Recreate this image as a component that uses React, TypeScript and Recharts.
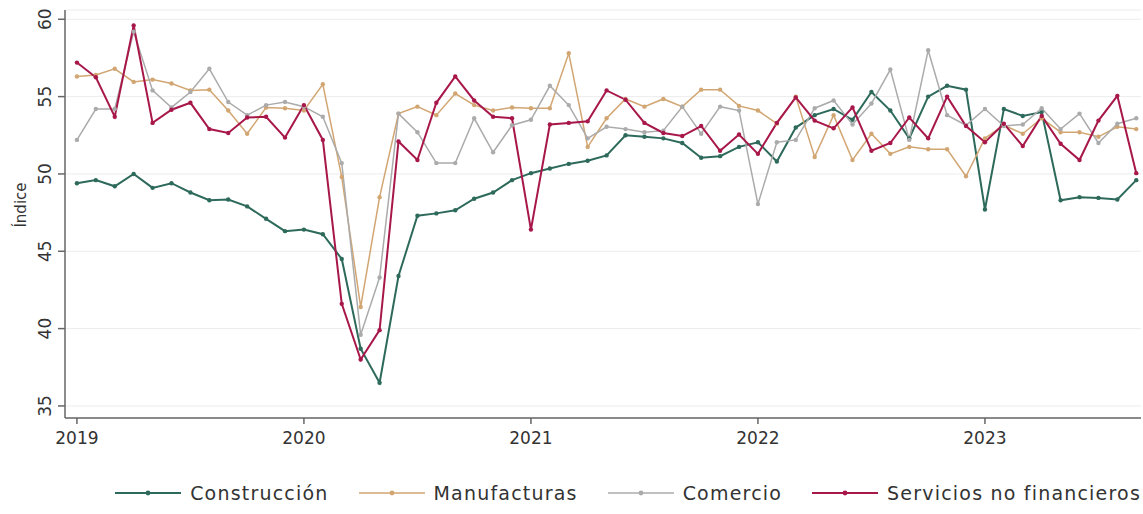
import { LineChart, Line, XAxis, YAxis, CartesianGrid, Legend } from 'recharts';

// month index 0 = ene 2019 ... 56 = sep 2023
const yearLabels = ['2019', '2020', '2021', '2022', '2023'];
const yearTicks = [0, 12, 24, 36, 48];
const yTicks = [35, 40, 45, 50, 55, 60];

const construccion = [
  49.4, 49.6, 49.2, 50.0, 49.1, 49.4, 48.8, 48.3, 48.35, 47.9, 47.1, 46.3,
  46.4, 46.1, 44.5, 38.7, 36.5, 43.4, 47.3, 47.45, 47.65, 48.4, 48.8, 49.6,
  50.05, 50.35, 50.65, 50.85, 51.2, 52.5, 52.4, 52.3, 52.0, 51.05, 51.15, 51.75,
  52.05, 50.8, 53.0, 53.8, 54.2, 53.5, 55.3, 54.1, 52.3, 55.0, 55.7, 55.45,
  47.7, 54.2, 53.75, 54.0, 48.3, 48.5, 48.45, 48.35, 49.6,
];
const manufacturas = [
  56.3, 56.4, 56.8, 55.95, 56.1, 55.85, 55.4, 55.45, 54.1, 52.6, 54.3, 54.25,
  54.1, 55.8, 49.8, 41.4, 48.5, 53.9, 54.35, 53.8, 55.2, 54.45, 54.1, 54.3,
  54.25, 54.25, 57.8, 51.75, 53.6, 54.85, 54.35, 54.85, 54.35, 55.45, 55.45, 54.4,
  54.1, 53.25, 55.0, 51.1, 53.8, 50.9, 52.6, 51.3, 51.75, 51.6, 51.6, 49.85,
  52.3, 53.15, 52.6, 53.6, 52.7, 52.7, 52.4, 53.05, 52.9,
];
const comercio = [
  52.2, 54.2, 54.2, 59.2, 55.4, 54.3, 55.3, 56.8, 54.65, 53.8, 54.45, 54.65,
  54.35, 53.7, 50.7, 39.6, 43.3, 53.9, 52.7, 50.7, 50.7, 53.6, 51.4, 53.15,
  53.5, 55.7, 54.45, 52.3, 53.05, 52.9, 52.7, 52.8, 54.35, 52.6, 54.35, 54.1,
  48.05, 52.05, 52.2, 54.25, 54.75, 53.2, 54.55, 56.75, 52.2, 58.0, 53.8, 53.15,
  54.2, 53.1, 53.2, 54.25, 52.9, 53.9, 52.0, 53.25, 53.6,
];
const servicios = [
  57.2, 56.25, 53.7, 59.6, 53.3, 54.15, 54.6, 52.9, 52.65, 53.65, 53.7, 52.35,
  54.45, 52.2, 41.6, 38.0, 39.9, 52.1, 50.9, 54.6, 56.3, 54.75, 53.7, 53.6,
  46.4, 53.2, 53.3, 53.4, 55.4, 54.8, 53.3, 52.65, 52.45, 53.1, 51.5, 52.55,
  51.3, 53.3, 54.95, 53.45, 52.95, 54.3, 51.5, 52.0, 53.65, 52.3, 55.0, 53.1,
  52.05, 53.25, 51.8, 53.75, 51.95, 50.9, 53.45, 55.05, 50.05,
];

const series = [
  { key: 'construccion', name: 'Construcción', color: '#2e6a5b', width: 2 },
  { key: 'manufacturas', name: 'Manufacturas', color: '#d2a672', width: 1.5 },
  { key: 'comercio', name: 'Comercio', color: '#ababab', width: 1.5 },
  { key: 'servicios', name: 'Servicios no financieros', color: '#a8174a', width: 2 },
];

const data = construccion.map((v, i) => ({
  t: i,
  construccion: v,
  manufacturas: manufacturas[i],
  comercio: comercio[i],
  servicios: servicios[i],
}));

const FONT = '"DejaVu Sans", sans-serif';

function YTick(props: any) {
  const { y, payload } = props;
  return (
    <text
      x={51}
      y={y}
      transform={`rotate(-90, 51, ${y})`}
      textAnchor="middle"
      fontSize={17}
      fontFamily={FONT}
      fill="#333"
    >
      {payload.value}
    </text>
  );
}

function LegendContent() {
  return (
    <div style={{ display: 'flex', justifyContent: 'flex-end', alignItems: 'center', fontFamily: FONT, fontSize: 19, letterSpacing: 1.2, color: '#333' }}>
      {series.map((s, i) => (
        <div key={s.key} style={{ display: 'flex', alignItems: 'center', marginLeft: i === 0 ? 0 : 30 }}>
          <svg width={66} height={12} style={{ marginRight: 9 }}>
            <line x1={0} y1={6} x2={66} y2={6} stroke={s.color} strokeWidth={s.width} />
            <circle cx={33} cy={6} r={2.4} fill={s.color} />
          </svg>
          <span style={{ whiteSpace: 'nowrap' }}>{s.name}</span>
        </div>
      ))}
    </div>
  );
}

export default function App() {
  return (
    <div style={{ position: 'absolute', left: 0, top: 0 }}>
      <LineChart width={1143} height={514} data={data} margin={{ top: 10, right: 2, bottom: 66, left: 0 }}>
        <CartesianGrid vertical={false} stroke="#ececec" />
        <XAxis
          dataKey="t"
          type="number"
          domain={[-0.63, 56.25]}
          ticks={yearTicks}
          tickFormatter={(v: number) => yearLabels[yearTicks.indexOf(v)]}
          height={30}
          tickSize={6}
          tickMargin={8}
          stroke="#666"
          strokeWidth={1.5}
          tick={{ fill: '#333', fontSize: 17, fontFamily: FONT }}
          allowDataOverflow
        />
        <YAxis
          type="number"
          domain={[34.22, 60.6]}
          ticks={yTicks}
          width={65}
          tickSize={7}
          stroke="#666"
          strokeWidth={1.5}
          tick={<YTick />}
          allowDataOverflow
          label={{
            content: () => (
              <text x={26} y={205} transform="rotate(-90, 26, 205)" textAnchor="middle" fontSize={15} fontFamily={FONT} fill="#333">
                Índice
              </text>
            ),
          }}
        />
        <Legend
          verticalAlign="middle"
          align="center"
          layout="horizontal"
          wrapperStyle={{ top: 482, left: 0, width: 1141 }}
          content={<LegendContent />}
        />
        {series.map((s) => (
          <Line
            key={s.key}
            type="linear"
            dataKey={s.key}
            name={s.name}
            stroke={s.color}
            strokeWidth={s.width}
            dot={{ r: 2.2, fill: s.color, stroke: s.color, strokeWidth: 0 }}
            activeDot={false}
            isAnimationActive={false}
          />
        ))}
      </LineChart>
    </div>
  );
}
